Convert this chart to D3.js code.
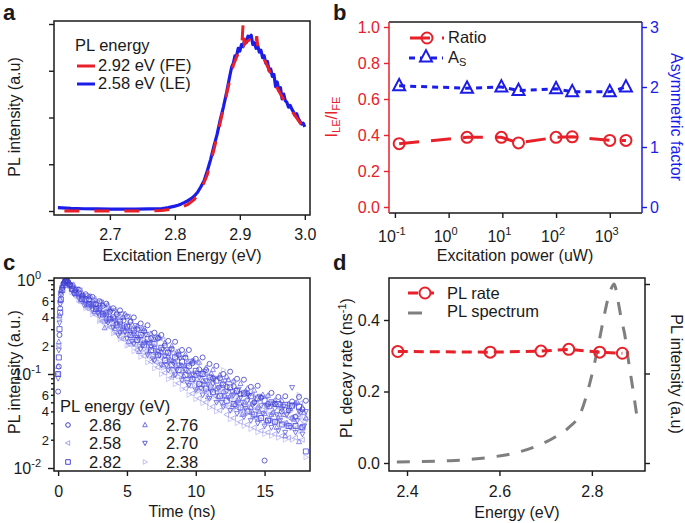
<!DOCTYPE html>
<html><head><meta charset="utf-8">
<script src="https://cdn.jsdelivr.net/npm/d3@7"></script>
<style>body{margin:0;background:#fff}</style>
</head><body>
<svg id="chart" width="685" height="523" style="background:#fff"></svg>
<script>
// ---------- Panel a data ----------
const energyLE = [2.62,2.64,2.66,2.68,2.70,2.72,2.74,2.76,2.78,2.785,2.79,2.795,2.80,2.805,2.81,2.815,2.82,2.825,2.83,2.835,2.84,2.845,2.85,2.855,2.86,2.865,2.87,2.875,2.88,
  2.885,2.8875,2.89,2.8925,2.895,2.8975,2.9,2.9025,2.905,2.9075,2.91,2.9125,2.915,2.9175,2.92,2.9225,2.925,2.9275,2.93,2.9325,2.935,2.9375,2.94,2.9425,2.945,2.9475,2.95,2.9525,2.955,2.9575,2.96,2.9625,2.965,2.9675,2.97,2.9725,2.975,2.9775,2.98,2.9825,2.985,2.9875,2.99,2.9925,2.995,2.9975,3.0];
const intensLE = [0.018,0.014,0.012,0.011,0.010,0.010,0.010,0.011,0.013,0.015,0.018,0.022,0.026,0.031,0.038,0.046,0.055,0.066,0.080,0.100,0.130,0.162,0.215,0.275,0.345,0.41,0.49,0.56,0.64,
  0.73,0.77,0.79,0.83,0.83,0.87,0.855,0.89,0.88,0.915,0.90,0.935,0.925,0.94,0.89,0.90,0.87,0.885,0.85,0.86,0.82,0.83,0.79,0.80,0.75,0.76,0.72,0.73,0.665,0.69,0.645,0.66,0.60,0.625,0.59,0.58,0.555,0.565,0.545,0.53,0.51,0.52,0.495,0.48,0.465,0.47,0.45];
const energyFE = [2.63,2.67,2.71,2.75,2.78,2.80,2.81,2.82,2.83,2.84,2.85,2.86,2.87,2.88,2.89,2.90,2.903,2.905,2.907,2.91,2.915,2.92,2.924,2.926,2.928,2.935,2.945,2.955,2.965,2.975,2.985,2.995,3.0];
const intensFE = [0,0,0,0,0.003,0.012,0.02,0.035,0.062,0.11,0.195,0.325,0.475,0.63,0.78,0.865,0.88,1.0,0.89,0.905,0.915,0.895,0.875,0.935,0.865,0.83,0.755,0.675,0.61,0.56,0.51,0.46,0.44];
const ticksA = [2.7,2.8,2.9,3.0];

// ---------- Panel b data ----------
const power = [0.12,2.2,9.6,20,100,200,1000,2000];
const ratio = [0.352,0.387,0.387,0.356,0.387,0.39,0.37,0.37];
const asym  = [2.02,1.98,2.0,1.94,1.97,1.92,1.92,2.0];
const ticksBx = [0.1,1,10,100,1000];
const ticksBxExp = ["-1","0","1","2","3"];
const ticksBL = [0,0.2,0.4,0.6,0.8,1.0];
const ticksBR = [0,1,2,3];

// ---------- Panel c data ----------
const timesC = [0,0.05,0.1,0.15,0.2,0.3,0.4,0.5,0.6,0.7,0.85,1,1.25,1.5,1.75,2,2.25,2.5,2.75,3,3.25,3.5,3.75,4,4.25,4.5,4.75,5,5.25,5.5,5.75,6,6.25,6.5,6.75,7,7.25,7.5,7.75,8,8.25,8.5,8.75,9,9.25,9.5,9.75,10,10.25,10.5,10.75,11,11.25,11.5,11.75,12,12.25,12.5,12.75,13,13.25,13.5,13.75,14,14.25,14.5,14.75,15,15.25,15.5,15.75,16,16.25,16.5,16.75,17,17.25,17.5,17.75,18];
const timesC2 = [1.125,1.375,1.625,1.875,2.125,2.375,2.625,2.875,3.125,3.375,3.625,3.875,4.125,4.375,4.625,4.875,5.125,5.375,5.625,5.875,6.125,6.375,6.625,6.875,7.125,7.375,7.625,7.875,8.125,8.375,8.625,8.875,9.125,9.375,9.625,9.875,10.125,10.375,10.625,10.875,11.125,11.375,11.625,11.875,12.125,12.375,12.625,12.875,13.125,13.375,13.625,13.875,14.125,14.375,14.625,14.875,15.125,15.375,15.625,15.875,16.125,16.375,16.625,16.875,17.125,17.375,17.625,17.875];
const pl286 = [0.065,0.12,0.26,0.5,0.7,0.82,0.92,0.97,1.0,0.96,0.9,
  0.865,0.78,0.79,0.68,0.705,0.62,0.66,0.555,0.595,0.53,
  0.56,0.46,0.50,0.43,0.475,0.37,0.41,0.36,0.40,0.30,
  0.345,0.285,0.33,0.24,0.275,0.24,0.26,0.20,0.225,0.185,
  0.22,0.16,0.18,0.149,0.18,0.13,0.145,0.112,0.15,0.11,
  0.128,0.09,0.122,0.09,0.10,0.073,0.106,0.074,0.089,0.061,
  0.087,0.062,0.073,0.05,0.075,0.056,0.012,0.048,0.063,0.048,
  0.057,0.04,0.058,0.041,0.051,0.035,0.057,0.042,0.052];
const pl276 = [0.12,0.22,0.42,0.62,0.78,0.86,0.92,0.97,0.99,0.95,0.89,
  0.79,0.80,0.69,0.72,0.60,0.66,0.54,0.60,0.485,0.555,
  0.43,0.49,0.385,0.455,0.34,0.40,0.31,0.367,0.27,0.325,
  0.247,0.303,0.215,0.267,0.195,0.246,0.17,0.213,0.155,0.198,
  0.134,0.173,0.123,0.161,0.106,0.138,0.097,0.133,0.085,0.116,
  0.08,0.111,0.069,0.097,0.065,0.094,0.058,0.084,0.052,0.079,
  0.05,0.07,0.044,0.067,0.044,0.057,0.038,0.059,0.037,0.052,
  0.034,0.052,0.022,0.048,0.034,0.049,0.019,0.044,0.034];
const pl276b = [0.891,0.725,0.614,0.681,0.562,0.666,0.462,0.52,0.458,0.309,
  0.542,0.392,0.303,0.413,0.304,0.434,0.222,0.305,0.257,0.173,
  0.303,0.22,0.171,0.231,0.17,0.245,0.125,0.171,0.143,0.097,
  0.17,0.123,0.095,0.13,0.096,0.137,0.071,0.098,0.083,0.057,
  0.101,0.074,0.058,0.079,0.059,0.087,0.045,0.063,0.054,0.037,
  0.066,0.049,0.039,0.054,0.04,0.06,0.032,0.045,0.039,0.027,
  0.049,0.037,0.03,0.043,0.033,0.05,0.027,0.039];
const pl282 = [0.1,0.15,0.3,0.45,0.62,0.78,0.88,0.95,0.99,0.94,0.88,
  0.81,0.73,0.72,0.63,0.62,0.55,0.56,0.49,0.50,0.43,
  0.45,0.38,0.40,0.33,0.36,0.29,0.32,0.26,0.29,0.23,
  0.26,0.205,0.235,0.18,0.21,0.16,0.19,0.14,0.168,0.125,
  0.15,0.11,0.135,0.098,0.122,0.088,0.108,0.078,0.10,0.07,
  0.092,0.064,0.085,0.058,0.077,0.052,0.072,0.048,0.066,0.044,
  0.062,0.04,0.058,0.037,0.055,0.034,0.052,0.032,0.05,0.031,
  0.048,0.029,0.047,0.028,0.046,0.028,0.045,0.027,0.015];
const pl270 = [0.09,0.18,0.35,0.55,0.72,0.83,0.91,0.96,0.98,0.93,0.87,
  0.77,0.745,0.65,0.64,0.55,0.565,0.48,0.50,0.415,0.44,
  0.365,0.39,0.315,0.345,0.275,0.31,0.24,0.275,0.21,0.245,
  0.185,0.215,0.16,0.195,0.14,0.175,0.125,0.155,0.11,0.138,
  0.098,0.125,0.086,0.112,0.076,0.10,0.068,0.092,0.06,0.085,
  0.055,0.079,0.05,0.072,0.045,0.066,0.041,0.06,0.038,0.056,
  0.035,0.052,0.032,0.049,0.03,0.046,0.028,0.045,0.027,0.043,
  0.025,0.042,0.024,0.041,0.072,0.024,0.04,0.023,0.04];
const pl270b = [0.713,0.798,0.675,0.544,0.679,0.527,0.551,0.446,0.584,0.42,
  0.354,0.47,0.37,0.259,0.436,0.279,0.321,0.222,0.328,0.235,
  0.198,0.264,0.208,0.145,0.244,0.158,0.182,0.124,0.183,0.131,
  0.111,0.148,0.116,0.081,0.137,0.088,0.102,0.071,0.106,0.077,
  0.066,0.089,0.071,0.05,0.084,0.056,0.065,0.046,0.069,0.05,
  0.043,0.059,0.047,0.034,0.058,0.038,0.046,0.032,0.049,0.037,
  0.032,0.045,0.037,0.027,0.047,0.032,0.039,0.028];
const pl258 = [0.1,0.2,0.4,0.6,0.75,0.85,0.9,0.95,0.97,0.92,0.86,
  0.78,0.69,0.665,0.58,0.555,0.49,0.49,0.425,0.43,0.365,
  0.38,0.315,0.335,0.27,0.30,0.235,0.265,0.205,0.235,0.18,
  0.21,0.155,0.185,0.135,0.165,0.118,0.148,0.103,0.13,0.092,
  0.116,0.08,0.104,0.07,0.092,0.062,0.081,0.055,0.075,0.05,
  0.069,0.045,0.064,0.041,0.058,0.037,0.054,0.034,0.05,0.031,
  0.047,0.029,0.044,0.027,0.042,0.025,0.04,0.024,0.038,0.023,
  0.037,0.022,0.036,0.021,0.035,0.021,0.034,0.02,0.033];
const pl258b = [0.829,0.653,0.776,0.606,0.503,0.566,0.63,0.465,0.364,0.53,
  0.48,0.314,0.481,0.333,0.238,0.326,0.409,0.244,0.204,0.296,
  0.268,0.176,0.27,0.186,0.133,0.184,0.231,0.136,0.114,0.166,
  0.151,0.098,0.151,0.105,0.075,0.103,0.13,0.078,0.066,0.097,
  0.09,0.059,0.092,0.064,0.046,0.065,0.083,0.05,0.043,0.064,
  0.059,0.039,0.061,0.043,0.032,0.045,0.058,0.036,0.031,0.046,
  0.043,0.03,0.048,0.034,0.026,0.037,0.049,0.031];
const pl238 = [0.1,0.2,0.38,0.58,0.74,0.84,0.9,0.95,0.97,0.92,0.86,
  0.74,0.71,0.61,0.59,0.50,0.50,0.43,0.44,0.365,0.38,
  0.315,0.33,0.27,0.29,0.235,0.25,0.20,0.22,0.175,0.195,
  0.152,0.172,0.133,0.152,0.115,0.135,0.10,0.12,0.088,0.106,
  0.078,0.094,0.069,0.084,0.06,0.075,0.054,0.067,0.049,0.062,
  0.044,0.057,0.04,0.052,0.11,0.046,0.033,0.043,0.03,0.04,
  0.028,0.038,0.026,0.035,0.024,0.033,0.023,0.031,0.022,0.03,
  0.021,0.029,0.02,0.029,0.02,0.028,0.06,0.027,0.013];
const pl238b = [0.736,0.812,0.594,0.656,0.538,0.649,0.446,0.495,0.56,0.354,
  0.375,0.49,0.278,0.385,0.28,0.419,0.204,0.277,0.314,0.198,
  0.21,0.275,0.156,0.216,0.157,0.236,0.116,0.155,0.175,0.11,
  0.118,0.154,0.087,0.121,0.088,0.132,0.065,0.089,0.102,0.065,
  0.07,0.093,0.053,0.074,0.054,0.084,0.041,0.057,0.066,0.042,
  0.046,0.061,0.035,0.05,0.037,0.057,0.029,0.0405,0.047,0.031,
  0.034,0.0465,0.0276,0.04,0.0304,0.048,0.0247,0.0351];
const ticksCx = [0,5,10,15];

// ---------- Panel d data ----------
const energyRate = [2.38,2.58,2.69,2.75,2.817,2.866];
const rate = [0.312,0.310,0.313,0.318,0.310,0.307];
const energySpec = [2.378,2.436,2.494,2.544,2.594,2.637,2.681,2.717,2.753,2.774,2.796,2.811,2.821,2.828,2.835,2.842,2.848,2.857,2.864,2.871,2.879,2.886,2.897];
const intensSpec = [0.006,0.008,0.013,0.022,0.037,0.058,0.095,0.14,0.205,0.27,0.45,0.62,0.75,0.84,0.92,0.975,1.0,0.9,0.8,0.72,0.575,0.46,0.27];
const ticksDx = [2.4,2.6,2.8];
const ticksDL = [0,0.2,0.4];
const ticksDR = [0,0.5,1];

// ---------- drawing ----------
const F = '"Liberation Sans", Arial, Helvetica, sans-serif';
const RED = '#e8202a', BLUE = '#1c1ce8', INK = '#1a1a1a';
const FS = 16;
const svg = d3.select('#chart');
svg.append('rect').attr('width',685).attr('height',523).attr('fill','#fff');

function frame(x0,y0,x1,y1){
  svg.append('rect').attr('x',x0).attr('y',y0).attr('width',x1-x0).attr('height',y1-y0)
    .attr('fill','none').attr('stroke',INK).attr('stroke-width',1.5);
}
function styleAxis(g,color){
  g.select('.domain').remove();
  g.selectAll('.tick line').attr('stroke',color).attr('stroke-width',1.4);
  g.selectAll('.tick text').attr('fill',color).attr('font-size',FS).attr('font-family',F);
}
function label(x,y,txt,opts={}){
  const t = svg.append('text').attr('x',x).attr('y',y).text(txt)
    .attr('font-family',F).attr('font-size',opts.size||FS).attr('fill',opts.color||INK)
    .attr('text-anchor',opts.anchor||'start');
  if(opts.weight) t.attr('font-weight',opts.weight);
  return t;
}
function vlabel(x,y,rot,parts,color){
  const t = svg.append('text').attr('transform',`translate(${x},${y}) rotate(${rot})`)
    .attr('font-family',F).attr('font-size',FS).attr('fill',color||INK).attr('text-anchor','middle');
  parts.forEach(p=>{
    const s = t.append('tspan').text(p.t);
    if(p.sub){ s.attr('font-size',11).attr('baseline-shift','-3'); }
    if(p.sup){ s.attr('font-size',11).attr('baseline-shift','6'); }
  });
  return t;
}
function marker(type,r){
  switch(type){
    case 'circle': return `M${r},0A${r},${r} 0 1,1 ${-r},0A${r},${r} 0 1,1 ${r},0Z`;
    case 'square': return `M${-r},${-r}h${2*r}v${2*r}h${-2*r}Z`;
    case 'up': return `M0,${-r*1.15}L${r},${r*0.75}L${-r},${r*0.75}Z`;
    case 'down': return `M0,${r*1.15}L${r},${-r*0.75}L${-r},${-r*0.75}Z`;
    case 'left': return `M${-r*1.15},0L${r*0.75},${-r}L${r*0.75},${r}Z`;
    case 'right': return `M${r*1.15},0L${-r*0.75},${-r}L${-r*0.75},${r}Z`;
  }
}

// Panel letters
label(3,20,'a',{size:22,weight:'bold'});
label(333,20,'b',{size:22,weight:'bold'});
label(3,270,'c',{size:22,weight:'bold'});
label(333,270,'d',{size:22,weight:'bold'});

// ===== Panel a =====
{
  const x = d3.scaleLinear().domain([2.614,3.008]).range([54,310]);
  const y = d3.scaleLinear().domain([0,1]).range([211,24]);
  svg.append('g').attr('transform','translate(0,215)')
    .call(d3.axisBottom(x).tickValues(ticksA).tickFormat(d3.format('.1f')).tickSize(5).tickPadding(9))
    .call(styleAxis,INK);
  svg.append('g').attr('transform','translate(54,0)')
    .call(d3.axisLeft(y).tickValues([0,0.25,0.5,0.75,1]).tickFormat('').tickSize(5))
    .call(styleAxis,INK);
  const line = d3.line().x(d=>x(d[0])).y(d=>y(d[1]));
  svg.append('path').datum(d3.zip(energyLE,intensLE)).attr('d',line)
    .attr('fill','none').attr('stroke',BLUE).attr('stroke-width',3.2).attr('stroke-linejoin','round');
  svg.append('path').datum(d3.zip(energyFE,intensFE)).attr('d',line)
    .attr('fill','none').attr('stroke',RED).attr('stroke-width',3).attr('stroke-dasharray','15,15');
  frame(54,21,310,215);
  label(75,51,'PL energy',{size:16.5});
  svg.append('line').attr('x1',77).attr('x2',95).attr('y1',66).attr('y2',66).attr('stroke',RED).attr('stroke-width',3);
  svg.append('line').attr('x1',77).attr('x2',95).attr('y1',84).attr('y2',84).attr('stroke',BLUE).attr('stroke-width',3);
  label(98,71,'2.92 eV (FE)',{size:16.5});
  label(98,89,'2.58 eV (LE)',{size:16.5});
  vlabel(20,117,-90,[{t:'PL intensity (a.u)'}]);
  label(182,261,'Excitation Energy (eV)',{anchor:'middle'});
}

// ===== Panel b =====
{
  const x = d3.scaleLog().domain([Math.pow(10,-1.11),Math.pow(10,3.6)]).range([389,642]);
  const yL = d3.scaleLinear().domain([0,1]).range([207,27]);
  const yR = d3.scaleLinear().domain([0,3]).range([207,27]);
  svg.append('g').attr('transform','translate(0,213)')
    .call(d3.axisBottom(x).tickValues(ticksBx).tickFormat('').tickSize(5)).call(styleAxis,INK);
  ticksBx.forEach((v,i)=>{
    const t = label(x(v)-3,242,'10',{anchor:'middle'});
    t.append('tspan').text(ticksBxExp[i]).attr('font-size',11).attr('baseline-shift','7');
  });
  svg.append('g').attr('transform','translate(389,0)')
    .call(d3.axisLeft(yL).tickValues(ticksBL).tickFormat(d3.format('.1f')).tickSize(5).tickPadding(4))
    .call(styleAxis,RED);
  svg.append('g').attr('transform','translate(642,0)')
    .call(d3.axisRight(yR).tickValues(ticksBR).tickFormat(d3.format('d')).tickSize(5).tickPadding(3))
    .call(styleAxis,BLUE);
  svg.append('line').attr('x1',389).attr('x2',642).attr('y1',22).attr('y2',22).attr('stroke',INK).attr('stroke-width',1.5);
  svg.append('line').attr('x1',389).attr('x2',642).attr('y1',213).attr('y2',213).attr('stroke',INK).attr('stroke-width',1.5);
  svg.append('line').attr('x1',389).attr('x2',389).attr('y1',22).attr('y2',213).attr('stroke',RED).attr('stroke-width',1.5);
  svg.append('line').attr('x1',642).attr('x2',642).attr('y1',22).attr('y2',213).attr('stroke',BLUE).attr('stroke-width',1.5);

  const lr = d3.line().x(d=>x(d[0])).y(d=>yL(d[1]));
  svg.append('path').datum(d3.zip(power,ratio)).attr('d',lr).attr('fill','none')
    .attr('stroke',RED).attr('stroke-width',3).attr('stroke-dasharray','20,12');
  svg.selectAll('.rc').data(d3.zip(power,ratio)).enter().append('path')
    .attr('d',marker('circle',5.5)).attr('transform',d=>`translate(${x(d[0])},${yL(d[1])})`)
    .attr('fill','none').attr('stroke',RED).attr('stroke-width',2);
  const la = d3.line().x(d=>x(d[0])).y(d=>yR(d[1]));
  svg.append('path').datum(d3.zip(power,asym)).attr('d',la).attr('fill','none')
    .attr('stroke',BLUE).attr('stroke-width',3).attr('stroke-dasharray','6,5');
  svg.selectAll('.at').data(d3.zip(power,asym)).enter().append('path')
    .attr('d',marker('up',6)).attr('transform',d=>`translate(${x(d[0])},${yR(d[1])})`)
    .attr('fill','none').attr('stroke',BLUE).attr('stroke-width',2);
  // legend
  svg.append('line').attr('x1',410).attr('x2',444).attr('y1',38).attr('y2',38).attr('stroke',RED).attr('stroke-width',3).attr('stroke-dasharray','20,12');
  svg.append('path').attr('d',marker('circle',5.5)).attr('transform','translate(427,38)').attr('fill','none').attr('stroke',RED).attr('stroke-width',2);
  svg.append('line').attr('x1',409).attr('x2',443).attr('y1',58).attr('y2',58).attr('stroke',BLUE).attr('stroke-width',3).attr('stroke-dasharray','6,5');
  svg.append('path').attr('d',marker('up',6)).attr('transform','translate(426,57)').attr('fill','#fff').attr('stroke',BLUE).attr('stroke-width',2);
  label(448,43,'Ratio',{size:16.5});
  const as = label(448,63,'A',{size:16.5});
  as.append('tspan').text('S').attr('font-size',11).attr('baseline-shift','-3');
  vlabel(337,117,-90,[{t:'I'},{t:'LE',sub:true},{t:'/I'},{t:'FE',sub:true}],RED);
  vlabel(671,117,90,[{t:'Asymmetric factor'}],BLUE);
  label(515,261,'Excitation power (uW)',{anchor:'middle'});
}

// ===== Panel c =====
{
  const x = d3.scaleLinear().domain([-0.3,18.3]).range([54,310]);
  const y = d3.scaleLog().domain([1e-2,1]).range([468,280]);
  svg.append('clipPath').attr('id','clipC').append('rect').attr('x',54).attr('y',278).attr('width',256).attr('height',193);
  const styles = [
    {name:'2.38',sets:[[timesC,pl238],[timesC2,pl238b]],type:'right',color:'#c0c0f8'},
    {name:'2.58',sets:[[timesC,pl258],[timesC2,pl258b]],type:'left',color:'#a4a4f0'},
    {name:'2.70',sets:[[timesC,pl270],[timesC2,pl270b]],type:'down',color:'#6060dc'},
    {name:'2.76',sets:[[timesC,pl276],[timesC2,pl276b]],type:'up',color:'#7070ec'},
    {name:'2.82',sets:[[timesC,pl282]],type:'square',color:'#4646de'},
    {name:'2.86',sets:[[timesC,pl286]],type:'circle',color:'#4040c4'}
  ];
  const gS = svg.append('g').attr('clip-path','url(#clipC)');
  styles.forEach(s=>{
    s.sets.forEach(([ts,vs])=>{
      gS.selectAll(null).data(d3.zip(ts,vs)).enter().append('path')
        .attr('d',marker(s.type,2.5)).attr('transform',d=>`translate(${x(d[0])},${y(d[1])})`)
        .attr('fill','none').attr('stroke',s.color).attr('stroke-width',1).attr('opacity',0.8);
    });
  });
  svg.append('g').attr('transform','translate(0,471)')
    .call(d3.axisBottom(x).tickValues(ticksCx).tickSize(5).tickPadding(10)).call(styleAxis,INK);
  const majors = [1e-2,1e-1,1];
  const minors = [];
  [0.01,0.1].forEach(b=>{for(let k=2;k<=9;k++) minors.push(b*k);});
  svg.append('g').attr('transform','translate(54,0)')
    .call(d3.axisLeft(y).tickValues(majors).tickFormat('').tickSize(6)).call(styleAxis,INK);
  svg.append('g').attr('transform','translate(54,0)')
    .call(d3.axisLeft(y).tickValues(minors).tickFormat('').tickSize(3)).call(styleAxis,INK);
  const exps = ['-2','-1','0'];
  majors.forEach((v,i)=>{
    const t = label(41,y(v)+6,'10',{anchor:'end'});
    t.append('tspan').text(exps[i]).attr('font-size',11).attr('baseline-shift','7');
  });
  [0.02,0.04,0.06,0.2,0.4,0.6].forEach(v=>{
    label(49,y(v)+5,String(Math.round(v/Math.pow(10,Math.floor(Math.log10(v)+1e-9)))),{anchor:'end',size:13});
  });
  frame(54,278,310,471);
  // legend
  label(60,412,'PL energy (eV)',{size:16.5});
  const legPos = [
    {i:5,x:68,y:425},{i:1,x:68,y:443},{i:4,x:68,y:462},
    {i:3,x:145,y:425},{i:2,x:145,y:443},{i:0,x:145,y:462}
  ];
  legPos.forEach(p=>{
    const s = styles[p.i];
    svg.append('path').attr('d',marker(s.type,2.3)).attr('transform',`translate(${p.x},${p.y})`)
      .attr('fill','none').attr('stroke',s.color).attr('stroke-width',1);
    label(p.x+21,p.y+6,s.name,{size:16.5});
  });
  vlabel(20,372,-90,[{t:'PL intensity (a.u.)'}]);
  label(182,517,'Time (ns)',{anchor:'middle'});
}

// ===== Panel d =====
{
  const x = d3.scaleLinear().domain([2.361,2.915]).range([389,645]);
  const yL = d3.scaleLinear().domain([0,0.4]).range([463,320]);
  const yR = d3.scaleLinear().domain([0,1]).range([463,284]);
  svg.append('g').attr('transform','translate(0,471)')
    .call(d3.axisBottom(x).tickValues(ticksDx).tickFormat(d3.format('.1f')).tickSize(5).tickPadding(10)).call(styleAxis,INK);
  svg.append('g').attr('transform','translate(389,0)')
    .call(d3.axisLeft(yL).tickValues(ticksDL).tickFormat(d3.format('.1f')).tickSize(5).tickPadding(4)).call(styleAxis,INK);
  svg.append('g').attr('transform','translate(645,0)')
    .call(d3.axisRight(yR).tickValues(ticksDR).tickFormat('').tickSize(5)).call(styleAxis,INK);
  const ls = d3.line().curve(d3.curveMonotoneX).x(d=>x(d[0])).y(d=>yR(d[1]));
  svg.append('path').datum(d3.zip(energySpec,intensSpec)).attr('d',ls).attr('fill','none')
    .attr('stroke','#7f7f7f').attr('stroke-width',3).attr('stroke-dasharray','13,12');
  const lr = d3.line().x(d=>x(d[0])).y(d=>yL(d[1]));
  svg.append('path').datum(d3.zip(energyRate,rate)).attr('d',lr).attr('fill','none')
    .attr('stroke',RED).attr('stroke-width',3).attr('stroke-dasharray','10,6');
  svg.selectAll('.dc').data(d3.zip(energyRate,rate)).enter().append('path')
    .attr('d',marker('circle',5.5)).attr('transform',d=>`translate(${x(d[0])},${yL(d[1])})`)
    .attr('fill','none').attr('stroke',RED).attr('stroke-width',2);
  frame(389,278,645,471);
  svg.append('line').attr('x1',408).attr('x2',437).attr('y1',293).attr('y2',293).attr('stroke',RED).attr('stroke-width',3).attr('stroke-dasharray','10,6');
  svg.append('path').attr('d',marker('circle',5.5)).attr('transform','translate(425,293)').attr('fill','#fff').attr('stroke',RED).attr('stroke-width',2);
  svg.append('line').attr('x1',408).attr('x2',422).attr('y1',313).attr('y2',313).attr('stroke','#7f7f7f').attr('stroke-width',3);
  label(447,299,'PL rate',{size:16.5});
  label(447,317,'PL spectrum',{size:16.5});
  vlabel(352,368,-90,[{t:'PL decay rate (ns'},{t:'-1',sup:true},{t:')'}]);
  vlabel(671,374,90,[{t:'PL intensity (a.u)'}]);
  label(517,518,'Energy (eV)',{anchor:'middle'});
}
</script>
</body></html>
